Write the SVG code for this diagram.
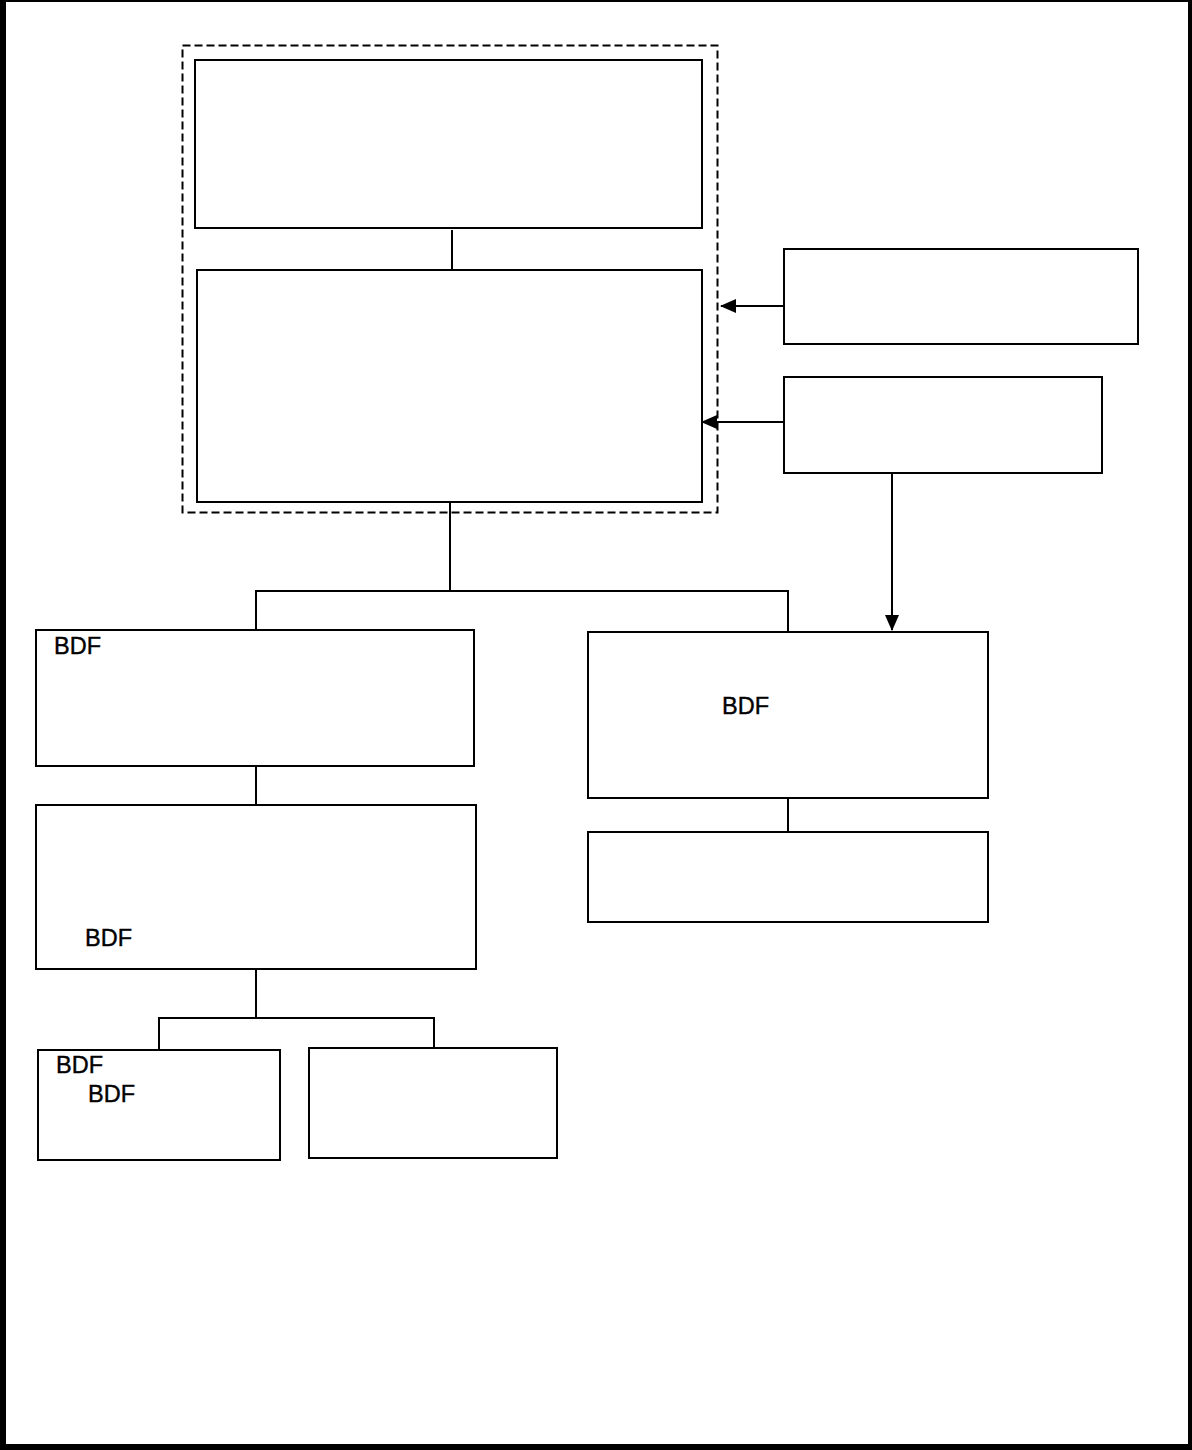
<svg xmlns="http://www.w3.org/2000/svg" width="1192" height="1450" viewBox="0 0 1192 1450">
<style>
.box{fill:#fff;stroke:#000;stroke-width:2}
.ln{fill:none;stroke:#000;stroke-width:2}
.t{font-family:"Liberation Sans",Arial,sans-serif;font-size:23.5px;fill:#000;stroke:#000;stroke-width:0.4}
</style>
<defs>
<marker id="ah" markerWidth="16" markerHeight="14" refX="15" refY="7" orient="auto" markerUnits="userSpaceOnUse">
<path d="M0,0 L16,7 L0,14 Z" fill="#000"/>
</marker>
</defs>
<rect x="0" y="0" width="1192" height="1450" fill="#000"/>
<rect x="6" y="2" width="1182" height="1442" fill="#fff"/>
<g id="group-dashed">
<rect x="182.5" y="45.5" width="535" height="467" fill="none" stroke="#000" stroke-width="2" stroke-dasharray="8,4"/>
</g>
<g id="connectors">
<line class="ln" x1="452" y1="230" x2="452" y2="270"/>
<line class="ln" x1="784" y1="306" x2="721" y2="306" marker-end="url(#ah)"/>
<line class="ln" x1="784" y1="422" x2="702" y2="422" marker-end="url(#ah)"/>
<line class="ln" x1="892" y1="473" x2="892" y2="630" marker-end="url(#ah)"/>
<polyline class="ln" points="450,502 450,591"/>
<polyline class="ln" points="256,630 256,591 788,591 788,632"/>
<line class="ln" x1="788" y1="798" x2="788" y2="832"/>
<line class="ln" x1="256" y1="766" x2="256" y2="805"/>
<line class="ln" x1="256" y1="969" x2="256" y2="1018"/>
<polyline class="ln" points="159,1050 159,1018 434,1018 434,1048"/>
</g>
<g id="node1"><rect class="box" x="195" y="60" width="507" height="168"/></g>
<g id="node2"><rect class="box" x="197" y="270" width="505" height="232"/></g>
<g id="node3"><rect class="box" x="784" y="249" width="354" height="95"/></g>
<g id="node4"><rect class="box" x="784" y="377" width="318" height="96"/></g>
<g id="node5"><rect class="box" x="36" y="630" width="438" height="136"/><text class="t" x="54" y="654">BDF</text></g>
<g id="node6"><rect class="box" x="588" y="632" width="400" height="166"/><text class="t" x="722" y="714">BDF</text></g>
<g id="node7"><rect class="box" x="588" y="832" width="400" height="90"/></g>
<g id="node8"><rect class="box" x="36" y="805" width="440" height="164"/><text class="t" x="85" y="946">BDF</text></g>
<g id="node9"><rect class="box" x="38" y="1050" width="242" height="110"/><text class="t" x="56" y="1073">BDF</text><text class="t" x="88" y="1102">BDF</text></g>
<g id="node10"><rect class="box" x="309" y="1048" width="248" height="110"/></g>
</svg>
